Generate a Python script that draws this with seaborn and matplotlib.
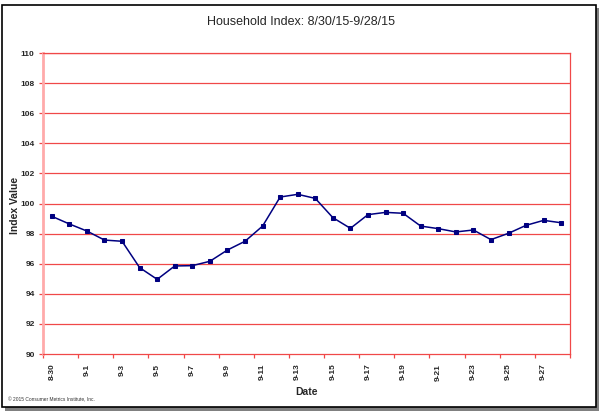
import numpy as np
import matplotlib
matplotlib.use("Agg")
import matplotlib.pyplot as plt
from matplotlib.patches import Rectangle
import pandas as pd
import seaborn as sns

sns.set_theme(style="white")
plt.rcParams['font.family'] = ['Liberation Sans', 'DejaVu Sans']

dates = ["8-30", "8-31"] + ["9-{}".format(i) for i in range(1, 29)]
index_values = [99.15, 98.64, 98.17, 97.57, 97.49, 95.74, 94.96, 95.85, 95.87, 96.16,
                96.91, 97.49, 98.50, 100.43, 100.61, 100.34, 99.06, 98.35, 99.26, 99.41,
                99.35, 98.50, 98.33, 98.11, 98.24, 97.60, 98.02, 98.55, 98.88, 98.72]
y_ticks = [90, 92, 94, 96, 98, 100, 102, 104, 106, 108, 110]

df = pd.DataFrame({'pos': np.arange(len(dates)), 'value': index_values, 'date': dates})

fig = plt.figure(figsize=(6.02, 4.11), dpi=100)
# outer frame with shadow
fig.patches.append(Rectangle((5 / 602, 0.5 / 411), 594 / 602, 402 / 411, transform=fig.transFigure,
                             facecolor='#808080', edgecolor='none', zorder=-2))
fig.patches.append(Rectangle((2 / 602, 4 / 411), 594 / 602, 402 / 411, transform=fig.transFigure,
                             facecolor='white', edgecolor='black', linewidth=1.2, zorder=-1))

ax = fig.add_axes([43 / 602, 1 - 354 / 411, (570 - 43) / 602, (354 - 53) / 411])
ax.set_facecolor('none')

for y in y_ticks[1:]:
    ax.axhline(y, color='#f04848', linewidth=0.9, zorder=1)

sns.lineplot(data=df, x='pos', y='value', ax=ax, color='#000080', linewidth=1.1,
             marker='s', markersize=3.3, markeredgecolor='#000080', zorder=3)

ax.set_xlim(-0.5, len(dates) - 0.5)
ax.set_ylim(90, 110)
ax.set_yticks(y_ticks)
ax.set_yticklabels([str(v) for v in y_ticks], fontsize=6, fontweight='bold')
ax.set_xticks(df['pos'][::2])
ax.set_xticklabels(dates[::2], rotation=90, fontsize=6, fontweight='bold')
ax.set_xticks(np.arange(-0.5, len(dates), 2), minor=True)
ax.tick_params(axis='x', which='major', length=0, pad=7)
ax.tick_params(axis='x', which='minor', length=3, color='#f04848', width=0.9, bottom=True)
ax.tick_params(axis='y', length=3, color='#f04848', width=0.9, left=True, pad=3)

for side in ['top', 'right', 'bottom']:
    ax.spines[side].set_color('#f04848')
    ax.spines[side].set_linewidth(0.9)
ax.spines['left'].set_color('#ffaaaa')
ax.spines['left'].set_linewidth(2)

ax.set_xlabel('')
ax.set_ylabel('')
fig.text(306 / 602, 1 - 392 / 411, 'Date', ha='center', va='center', fontsize=7.5, fontweight='bold')
fig.text(15 / 602, 1 - 205 / 411, 'Index Value', ha='center', va='center', rotation=90,
         fontsize=7.5, fontweight='bold')
fig.text(0.5, 1 - 22 / 411, 'Household Index: 8/30/15-9/28/15', ha='center', va='center', fontsize=9)
fig.text(8 / 602, 1 - 400 / 411, '\u00a9 2015 Consumer Metrics Institute, Inc.', ha='left', va='center',
         fontsize=3.5, color='#333333')

plt.savefig('out.png', dpi=100)
